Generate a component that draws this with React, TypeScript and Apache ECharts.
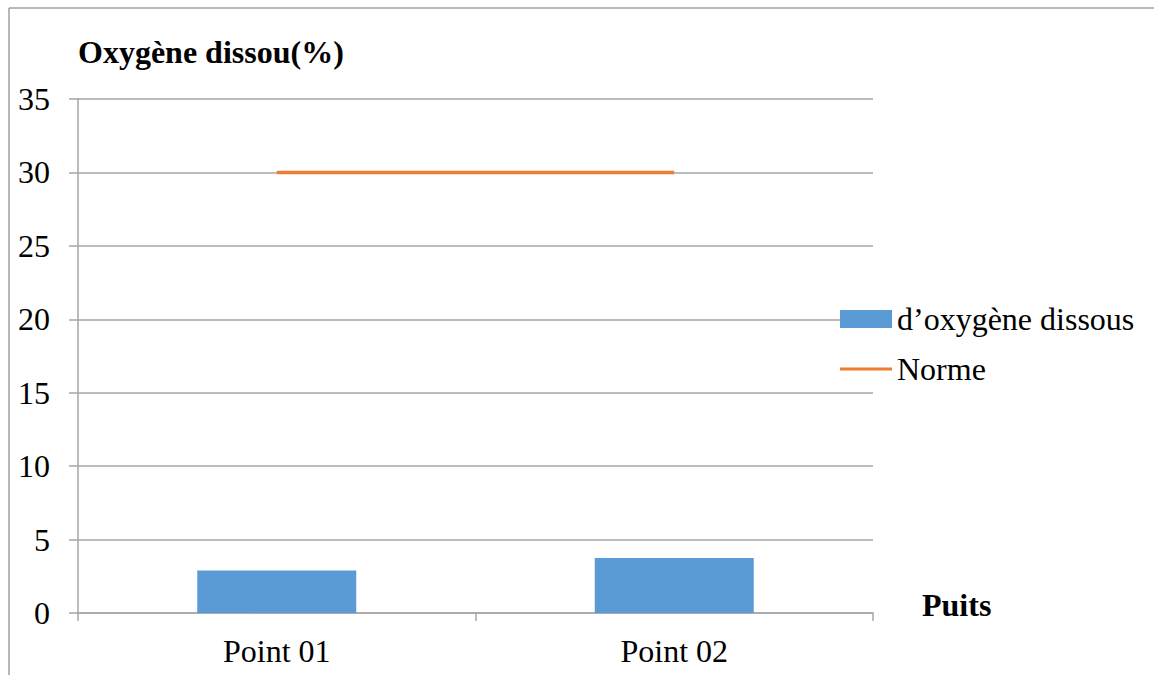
import React, { useEffect, useRef } from "react";
import * as echarts from "echarts";

const categories = ["Point 01", "Point 02"];
const oxygenValues = [2.9, 3.75];
const normValues = [30, 30];
const yTicks = { min: 0, max: 35, interval: 5 };

const FONT = "Liberation Serif";

export default function App() {
  const ref = useRef<HTMLDivElement>(null);
  useEffect(() => {
    if (!ref.current) return;
    const chart = echarts.init(ref.current, undefined, { renderer: "svg" });
    chart.setOption({
      animation: false,
      backgroundColor: "#ffffff",
      textStyle: { fontFamily: FONT },
      grid: { left: 78, top: 99, width: 795, height: 514, containLabel: false },
      graphic: [
        { type: "line", shape: { x1: 9, y1: 8, x2: 1154, y2: 8 }, style: { stroke: "#a0a0a0", lineWidth: 1.5 } },
        { type: "line", shape: { x1: 9, y1: 8, x2: 9, y2: 675 }, style: { stroke: "#a0a0a0", lineWidth: 1.5 } },
        {
          type: "text", left: 78, top: 36,
          style: { text: "Oxygène dissou(%)", fontFamily: FONT, fontWeight: "bold", fontSize: 32, fill: "#000" },
        },
        {
          type: "text", left: 922, top: 589,
          style: { text: "Puits", fontFamily: FONT, fontWeight: "bold", fontSize: 32, fill: "#000" },
        },
      ],
      legend: {
        orient: "vertical",
        left: 835,
        top: 298,
        itemGap: 18,
        itemWidth: 52,
        itemHeight: 18,
        textStyle: { fontFamily: FONT, fontSize: 32, color: "#000" },
        data: [
          { name: "d’oxygène dissous", icon: "rect" },
          { name: "Norme", icon: "path://M0,7.5 L52,7.5 L52,10.5 L0,10.5 Z" },
        ],
      },
      xAxis: {
        type: "category",
        data: categories,
        axisLine: { lineStyle: { color: "#a6a6a6", width: 1.5 } },
        axisTick: { show: true, length: 8, alignWithLabel: false, lineStyle: { color: "#a6a6a6", width: 1.5 } },
        axisLabel: { fontFamily: FONT, fontSize: 32, color: "#000", margin: 22 },
      },
      yAxis: {
        type: "value",
        min: yTicks.min,
        max: yTicks.max,
        interval: yTicks.interval,
        axisLine: { show: true, lineStyle: { color: "#a6a6a6", width: 1.5 } },
        axisTick: { show: true, length: 9, lineStyle: { color: "#a6a6a6", width: 1.5 } },
        splitLine: { lineStyle: { color: "#a6a6a6", width: 1.5 } },
        axisLabel: { fontFamily: FONT, fontSize: 32, color: "#000", margin: 28 },
      },
      series: [
        {
          name: "d’oxygène dissous",
          type: "bar",
          data: oxygenValues,
          barWidth: "40%",
          itemStyle: { color: "#5B9BD5" },
        },
        {
          name: "Norme",
          type: "line",
          data: normValues,
          symbol: "none",
          lineStyle: { color: "#ED7D31", width: 3.5 },
          itemStyle: { color: "#ED7D31" },
        },
      ],
    });
    return () => chart.dispose();
  }, []);
  return (
    <div
      ref={ref}
      style={{ position: "fixed", left: 0, top: 0, width: 1154, height: 675, background: "#fff" }}
    />
  );
}
